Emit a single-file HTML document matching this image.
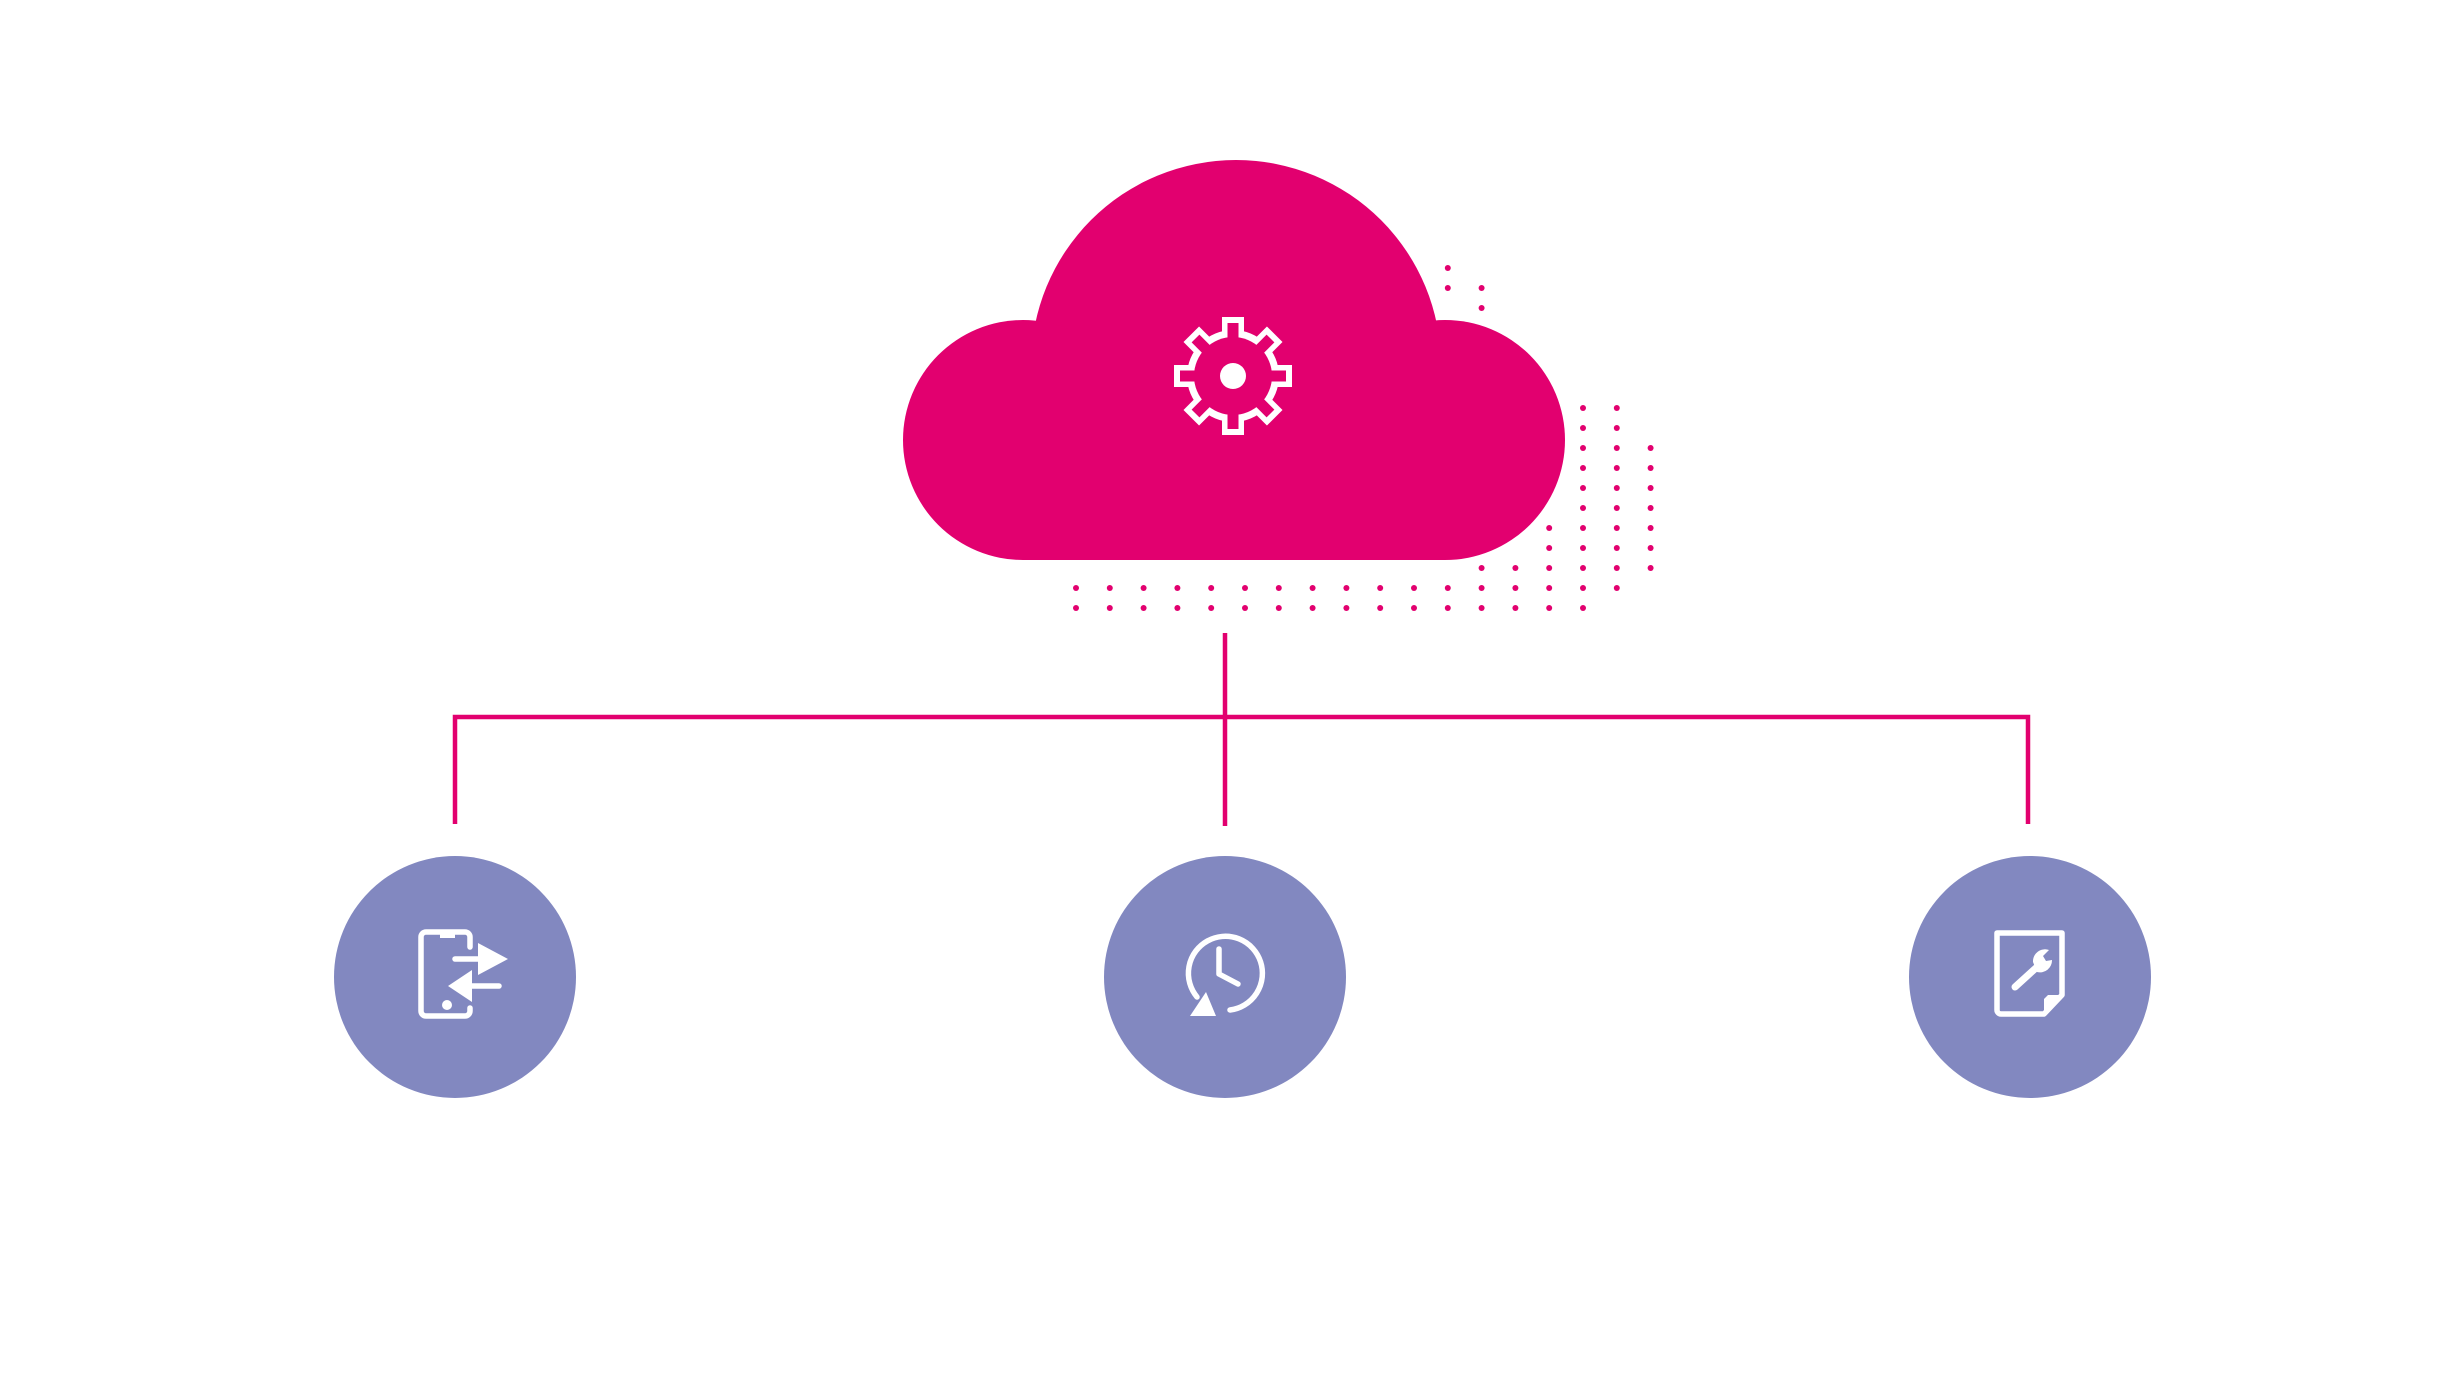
<!DOCTYPE html>
<html><head><meta charset="utf-8"><style>html,body{margin:0;padding:0;background:#fff;}svg{display:block}</style></head>
<body>
<svg width="2449" height="1378" viewBox="0 0 2449 1378" xmlns="http://www.w3.org/2000/svg">
<defs><clipPath id="cb"><rect x="0" y="0" width="2449" height="560"/></clipPath></defs>
<rect width="2449" height="1378" fill="#fff"/>
<g fill="#e2006f" id="dots"></g>
<script>
(function(){
var rows={268:[11],288:[11,12],308:[12],408:[15,16],428:[15,16],448:[15,16,17],468:[15,16,17],488:[15,16,17],508:[15,16,17],528:[14,15,16,17],548:[14,15,16,17],568:[12,13,14,15,16,17],588:[0,1,2,3,4,5,6,7,8,9,10,11,12,13,14,15,16],608:[0,1,2,3,4,5,6,7,8,9,10,11,12,13,14,15]};
var g=document.getElementById('dots'),ns='http://www.w3.org/2000/svg';
for(var y in rows){rows[y].forEach(function(k){var c=document.createElementNS(ns,'circle');c.setAttribute('cx',1076+33.8*k);c.setAttribute('cy',y);c.setAttribute('r',3);g.appendChild(c);});}
})();
</script>
<g fill="#e2006f" clip-path="url(#cb)">
<circle cx="1236" cy="365" r="205"/>
<circle cx="1023" cy="440" r="120"/>
<circle cx="1445" cy="440" r="120"/>
<rect x="1023" y="330" width="422" height="230"/>
</g>
<g transform="translate(1233,376)">
<g fill="#fff">
<circle r="46"/>
<rect x="-11" y="-59" width="22" height="20" transform="rotate(0)"/>
<rect x="-11" y="-59" width="22" height="20" transform="rotate(45)"/>
<rect x="-11" y="-59" width="22" height="20" transform="rotate(90)"/>
<rect x="-11" y="-59" width="22" height="20" transform="rotate(135)"/>
<rect x="-11" y="-59" width="22" height="20" transform="rotate(180)"/>
<rect x="-11" y="-59" width="22" height="20" transform="rotate(225)"/>
<rect x="-11" y="-59" width="22" height="20" transform="rotate(270)"/>
<rect x="-11" y="-59" width="22" height="20" transform="rotate(315)"/>
</g>
<g fill="#e2006f">
<circle r="39"/>
<rect x="-5.5" y="-53" width="11" height="16" transform="rotate(0)"/>
<rect x="-5.5" y="-53" width="11" height="16" transform="rotate(45)"/>
<rect x="-5.5" y="-53" width="11" height="16" transform="rotate(90)"/>
<rect x="-5.5" y="-53" width="11" height="16" transform="rotate(135)"/>
<rect x="-5.5" y="-53" width="11" height="16" transform="rotate(180)"/>
<rect x="-5.5" y="-53" width="11" height="16" transform="rotate(225)"/>
<rect x="-5.5" y="-53" width="11" height="16" transform="rotate(270)"/>
<rect x="-5.5" y="-53" width="11" height="16" transform="rotate(315)"/>
</g>
<circle r="13" fill="#fff"/>
</g>
<g stroke="#e2006f" stroke-width="4.5" fill="none">
<line x1="1225" y1="633" x2="1225" y2="826"/>
<polyline points="455,824 455,717 2028,717 2028,824"/>
</g>
<g fill="#8288c0">
<circle cx="455" cy="977" r="121"/>
<circle cx="1225" cy="977" r="121"/>
<circle cx="2030" cy="977" r="121"/>
</g>
<g transform="translate(0,-3)">
<g fill="none" stroke="#fff" stroke-width="5.5" stroke-linecap="round">
<path d="M470,950 V940 a5,5 0 0 0 -5,-5 H426 a5,5 0 0 0 -5,5 V1014 a5,5 0 0 0 5,5 H465 a5,5 0 0 0 5,-5 V1011"/>
<line x1="455" y1="962" x2="482" y2="962"/>
<line x1="470" y1="989" x2="499" y2="989"/>
</g>
<g fill="#fff">
<rect x="440" y="933" width="15" height="8"/>
<polygon points="478,946 508,962 478,978"/>
<polygon points="472,973 448,989 472,1005"/>
<circle cx="447" cy="1008" r="5"/>
</g>
</g>
<g transform="translate(-3,-3)">
<g fill="none" stroke="#fff" stroke-width="5.5" stroke-linecap="round" stroke-linejoin="round">
<path d="M1233,1013 A37,37 0 1 0 1200,1000"/>
<polyline points="1222,952 1222,977 1241,987"/>
</g>
<polygon points="1193,1019 1219,1019 1209,995" fill="#fff"/>
</g>
<g transform="translate(1,-3)">
<g fill="none" stroke="#fff" stroke-width="5.5" stroke-linejoin="round">
<path d="M1996,936 H2061 V998 L2043,1017 H2000 a4,4 0 0 1 -4,-4 Z"/>
</g>
<polygon points="2061,998 2043,1017 2043,1002 2047,998" fill="#fff"/>
<line x1="2014" y1="990" x2="2036" y2="970" stroke="#fff" stroke-width="7" stroke-linecap="round"/>
<path d="M2032,965 a12,12 0 0 1 16,-12 l-6,6 l3,5 l6,-1 a12,12 0 0 1 -15,12 z" fill="#fff"/>
</g>
</svg>
</body></html>
